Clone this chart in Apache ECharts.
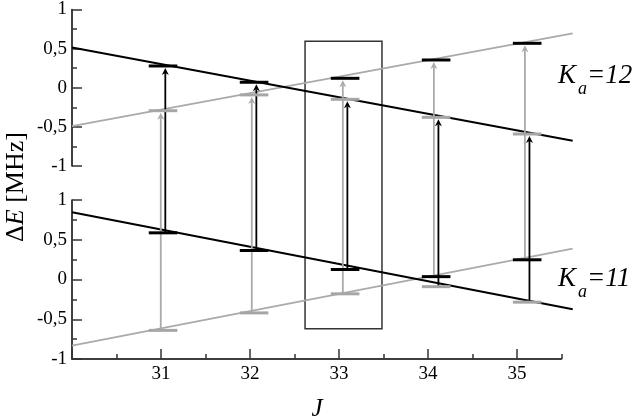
<!DOCTYPE html>
<html><head><meta charset="utf-8">
<script src="https://cdn.jsdelivr.net/npm/echarts@6/dist/echarts.min.js"></script>
<style>html,body{margin:0;padding:0;background:#fff}#c{width:636px;height:419px}</style>
</head><body><div id="c"></div>
<script>
// ---- data ----
const J = [31, 32, 33, 34, 35];
// K_a = 12 panel (top): upper (black) and lower (gray) level bars
const ka12Upper = [0.266, 0.06, 0.11, 0.342, 0.553];
const ka12Lower = [-0.30, -0.10, -0.156, -0.384, -0.595];
// K_a = 11 panel (bottom)
const ka11Upper = [0.587, 0.365, 0.126, 0.036, 0.248];
const ka11Lower = [-0.64, -0.42, -0.18, -0.09, -0.285];
// straight trend lines
const lineJ = [30, 35.5];
const ka12Black = [0.5, -0.68];
const ka12Gray = [-0.494, 0.68];
const ka11Black = [0.845, -0.375];
const ka11Gray = [-0.833, 0.387];
// transitions (arrows): from bottom panel level to top panel level
const grayFrom = [-0.64, -0.42, -0.18, 0.036, 0.248];
const grayTo = [-0.30, -0.10, 0.11, 0.342, 0.553];
const blackFrom = [0.587, 0.365, 0.126, -0.09, -0.285];
const blackTo = [0.266, 0.06, -0.156, -0.384, -0.595];
// highlighted box
const boxJ = [32.56, 33.405];
const boxTopValue = 0.578;   // top panel units
const boxBottomValue = -0.62; // bottom panel units
// tick labels
const yTickValues = [-1, -0.5, 0, 0.5, 1];
const yTickLabels = ['-1', '-0,5', '0', '0,5', '1'];
const xTickValues = [31, 32, 33, 34, 35];
const xTickLabels = ['31', '32', '33', '34', '35'];

// ---- chart ----
const chart = echarts.init(document.getElementById('c'), null, {renderer: 'canvas'});
const FONT = 'Liberation Serif';
const GRAY = '#aaaaaa';
const BARGRAY = '#a6a6a6';
const L = 72, W_AXIS = 489.5, W_DATA = 500.7;
const TOPG = {top: 8, height: 158}, BOTG = {top: 200, height: 159};
const HALF = 0.157;

const grids = [
  {left: L, top: TOPG.top, width: W_AXIS, height: TOPG.height},
  {left: L, top: BOTG.top, width: W_AXIS, height: BOTG.height},
  {left: L, top: BOTG.top, width: W_AXIS * 5 / 5.5, height: BOTG.height},
  {left: L, top: TOPG.top, width: W_DATA, height: TOPG.height},
  {left: L, top: BOTG.top, width: W_DATA, height: BOTG.height}
];

function yVis(i) {
  return {
    gridIndex: i, type: 'value', min: -1, max: 1, interval: 0.5,
    axisLine: {show: true, lineStyle: {color: '#000', width: 1.5}},
    axisTick: {show: true, inside: true, length: 10, lineStyle: {color: '#333', width: 1.5}},
    minorTick: {show: true, splitNumber: 2, length: 5, lineStyle: {color: '#333', width: 1.5}},
    splitLine: {show: false}, minorSplitLine: {show: false},
    axisLabel: {
      margin: 5, fontFamily: FONT, fontSize: 19, color: '#000',
      formatter: v => { const k = yTickValues.findIndex(t => Math.abs(t - v) < 1e-9); return k >= 0 ? yTickLabels[k] : ''; }
    }
  };
}
function hidden(i, axisType, min, max) {
  return {gridIndex: i, type: 'value', min: min, max: max, show: false, splitLine: {show: false}};
}

const xAxes = [
  hidden(0, 'x', 30, 35.5),
  {
    gridIndex: 1, type: 'value', min: 30, max: 35.5, interval: 0.5,
    axisLine: {show: true, onZero: false, lineStyle: {color: '#000', width: 1.5}},
    axisTick: {show: true, inside: true, length: 5, lineStyle: {color: '#333', width: 1.5}},
    splitLine: {show: false},
    axisLabel: {
      margin: 6, fontFamily: FONT, fontSize: 19, color: '#000',
      formatter: v => { const k = xTickValues.findIndex(t => Math.abs(t - v) < 1e-9); return k >= 0 ? xTickLabels[k] : ''; }
    }
  },
  {
    gridIndex: 2, type: 'value', min: 30, max: 35, interval: 1,
    axisLine: {show: false, onZero: false},
    axisTick: {show: true, inside: true, length: 10, lineStyle: {color: '#333', width: 1.5}},
    axisLabel: {show: false}, splitLine: {show: false}
  },
  hidden(3, 'x', 30, 35.5),
  hidden(4, 'x', 30, 35.5)
];
const yAxes = [
  yVis(0), yVis(1),
  hidden(2, 'y', -1, 1), hidden(3, 'y', -1, 1), hidden(4, 'y', -1, 1)
];

function lineSeries(gi, ys, color, width) {
  return {
    type: 'line', xAxisIndex: gi, yAxisIndex: gi, symbol: 'none', z: 2, silent: true,
    data: lineJ.map((x, k) => [x, ys[k]]),
    lineStyle: {color: color, width: width}
  };
}
function barSeries(gi, ys, color) {
  return {
    type: 'custom', xAxisIndex: gi, yAxisIndex: gi, z: 5, silent: true,
    data: J.map((x, k) => [x, ys[k]]),
    renderItem: (params, api) => {
      const x = api.value(0), y = api.value(1);
      const a = api.coord([x - HALF, y]), b = api.coord([x + HALF, y]);
      return {type: 'line', shape: {x1: a[0], y1: a[1], x2: b[0], y2: b[1]}, style: {stroke: color, lineWidth: 3}};
    }
  };
}

const baseSeries = [
  lineSeries(3, ka12Gray, GRAY, 1.8),
  lineSeries(3, ka12Black, '#000', 2),
  lineSeries(4, ka11Gray, GRAY, 1.8),
  lineSeries(4, ka11Black, '#000', 2),
  barSeries(3, ka12Lower, BARGRAY),
  barSeries(3, ka12Upper, '#000'),
  barSeries(4, ka11Lower, BARGRAY),
  barSeries(4, ka11Upper, '#000')
];

const graphics = [
  {type: 'text', x: 16, y: 187, rotation: Math.PI / 2, silent: true,
   style: {text: '{n|Δ}{i|E}{n| [MHz]}', align: 'center', verticalAlign: 'middle',
     rich: {n: {fontFamily: FONT, fontSize: 26, fill: '#000'}, i: {fontFamily: FONT, fontSize: 26, fontStyle: 'italic', fill: '#000'}}}},
  {type: 'text', x: 317, y: 409, silent: true,
   style: {text: 'J', font: 'italic 25px "Liberation Serif"', fill: '#000', align: 'center', verticalAlign: 'middle'}},
  {type: 'text', x: 558, y: 76, silent: true, style: {text: 'K', font: 'italic 27px "Liberation Serif"', fill: '#000', align: 'left', verticalAlign: 'middle'}},
  {type: 'text', x: 578, y: 89, silent: true, style: {text: 'a', font: 'italic 18px "Liberation Serif"', fill: '#000', align: 'left', verticalAlign: 'middle'}},
  {type: 'text', x: 587, y: 76, silent: true, style: {text: '=12', font: 'italic 27px "Liberation Serif"', fill: '#000', align: 'left', verticalAlign: 'middle'}},
  {type: 'text', x: 558, y: 279, silent: true, style: {text: 'K', font: 'italic 27px "Liberation Serif"', fill: '#000', align: 'left', verticalAlign: 'middle'}},
  {type: 'text', x: 578, y: 292, silent: true, style: {text: 'a', font: 'italic 18px "Liberation Serif"', fill: '#000', align: 'left', verticalAlign: 'middle'}},
  {type: 'text', x: 587, y: 279, silent: true, style: {text: '=11', font: 'italic 27px "Liberation Serif"', fill: '#000', align: 'left', verticalAlign: 'middle'}}
];

chart.setOption({
  animation: false,
  backgroundColor: '#fff',
  grid: grids, xAxis: xAxes, yAxis: yAxes,
  series: baseSeries,
  graphic: graphics
});

// express top-panel values in bottom data grid units (through the library's own scales)
function topToBottom(x, v) {
  const px = chart.convertToPixel({gridIndex: 3}, [x, v]);
  return chart.convertFromPixel({gridIndex: 4}, px)[1];
}
function arrowSeries(dx, from, to, color) {
  return {
    type: 'custom', xAxisIndex: 4, yAxisIndex: 4, z: 3, silent: true, clip: false,
    data: J.map((x, k) => [x + dx, from[k], topToBottom(x + dx, to[k])]),
    renderItem: (params, api) => {
      const x = api.value(0);
      const p0 = api.coord([x, api.value(1)]), p1 = api.coord([x, api.value(2)]);
      const tip = p1[1] + 2, hl = 7, hw = 3.5;
      return {type: 'group', children: [
        {type: 'line', shape: {x1: p0[0], y1: p0[1], x2: p0[0], y2: tip + hl - 2}, style: {stroke: color, lineWidth: 1.8}},
        {type: 'polygon', shape: {points: [[p1[0], tip], [p1[0] - hw, tip + hl], [p1[0], tip + hl - 2], [p1[0] + hw, tip + hl]]}, style: {fill: color}}
      ]};
    }
  };
}
const boxSeries = {
  type: 'custom', xAxisIndex: 4, yAxisIndex: 4, z: 1, silent: true, clip: false,
  data: [[boxJ[0], boxJ[1], topToBottom(boxJ[0], boxTopValue), boxBottomValue]],
  renderItem: (params, api) => {
    const a = api.coord([api.value(0), api.value(2)]);
    const b = api.coord([api.value(1), api.value(3)]);
    return {type: 'rect', shape: {x: a[0], y: a[1], width: b[0] - a[0], height: b[1] - a[1]},
      style: {stroke: '#333', lineWidth: 1.5, fill: null}};
  }
};

chart.setOption({
  series: baseSeries.concat([
    arrowSeries(-0.025, grayFrom, grayTo, GRAY),
    arrowSeries(0.025, blackFrom, blackTo, '#000'),
    boxSeries
  ])
});
</script></body></html>
